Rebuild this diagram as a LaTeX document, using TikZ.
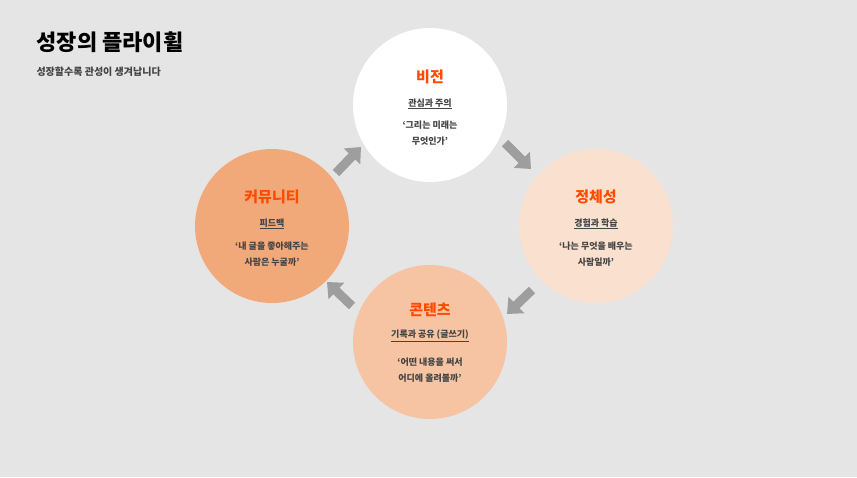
\documentclass[tikz,border=0pt]{standalone}
\usepackage{fontspec}
\setmainfont{Noto Sans CJK KR}
\usetikzlibrary{arrows.meta}
\definecolor{bg}{HTML}{E5E5E5}
\definecolor{ttl}{HTML}{FF4A00}
\definecolor{txt}{HTML}{444444}
\definecolor{arr}{HTML}{9E9E9E}
\tikzset{
 circ/.style={circle,minimum size=154pt,inner sep=0pt},
 ctitle/.style={text=ttl,font=\fontsize{15}{18}\selectfont\bfseries},
 csub/.style={text=txt,font=\fontsize{9}{11}\selectfont\bfseries},
 cq/.style={text=txt,font=\fontsize{9}{16}\selectfont\bfseries,align=center},
 flow/.style={arr,line width=9pt,-{Triangle[length=13pt,width=22pt]}}
}
\begin{document}
\begin{tikzpicture}[x=1pt,y=-1pt]
\fill[bg] (0,0) rectangle (857,477);
\useasboundingbox (0,0) rectangle (857,477);
\node[anchor=west,font=\fontsize{22}{26}\selectfont\bfseries] (title) at (33,42) {성장의 플라이휠};
\node[anchor=west,text=txt,font=\fontsize{10}{12}\selectfont\bfseries] (sub) at (33,72) {성장할수록 관성이 생겨납니다};
\node[circ,fill=white] (vision) at (430,105) {};
\node[circ,fill={rgb,255:red,250;green,224;blue,207}] (ident) at (596,226) {};
\node[circ,fill={rgb,255:red,246;green,196;blue,163}] (content) at (430,342) {};
\node[circ,fill={rgb,255:red,242;green,169;blue,122}] (comm) at (272,226) {};
% texts
\node[ctitle] (vt) at (430,77) {비전};
\node[csub] (vs) at (430,104) {\underline{관심과 주의}};
\node[cq] (vq) at (430,133) {‘그리는 미래는\\무엇인가’};
\node[ctitle] (it) at (596,197) {정체성};
\node[csub] (is) at (596,224) {\underline{경험과 학습}};
\node[cq] (iq) at (596,254) {‘나는 무엇을 배우는\\사람일까’};
\node[ctitle] (ct) at (430,310) {콘텐츠};
\node[csub] (cs) at (430,336) {\underline{기록과 공유 (글쓰기)}};
\node[cq] (cq1) at (430,370) {‘어떤 내용을 써서\\어디에 올려볼까’};
\node[ctitle] (mt) at (272,197) {커뮤니티};
\node[csub] (ms) at (272,224) {\underline{피드백}};
\node[cq] (mq) at (272,254) {‘내 글을 좋아해주는\\사람은 누굴까’};
% arrows
\coordinate (a1) at (505,143); \coordinate (b1) at (531,169);
\coordinate (a2) at (532,290); \coordinate (b2) at (507,314);
\coordinate (a3) at (352,306); \coordinate (b3) at (327,282);
\coordinate (a4) at (336,173); \coordinate (b4) at (361,147);
\draw[flow] (a1) -- (b1);
\draw[flow] (a2) -- (b2);
\draw[flow] (a3) -- (b3);
\draw[flow] (a4) -- (b4);
\end{tikzpicture}
\end{document}
